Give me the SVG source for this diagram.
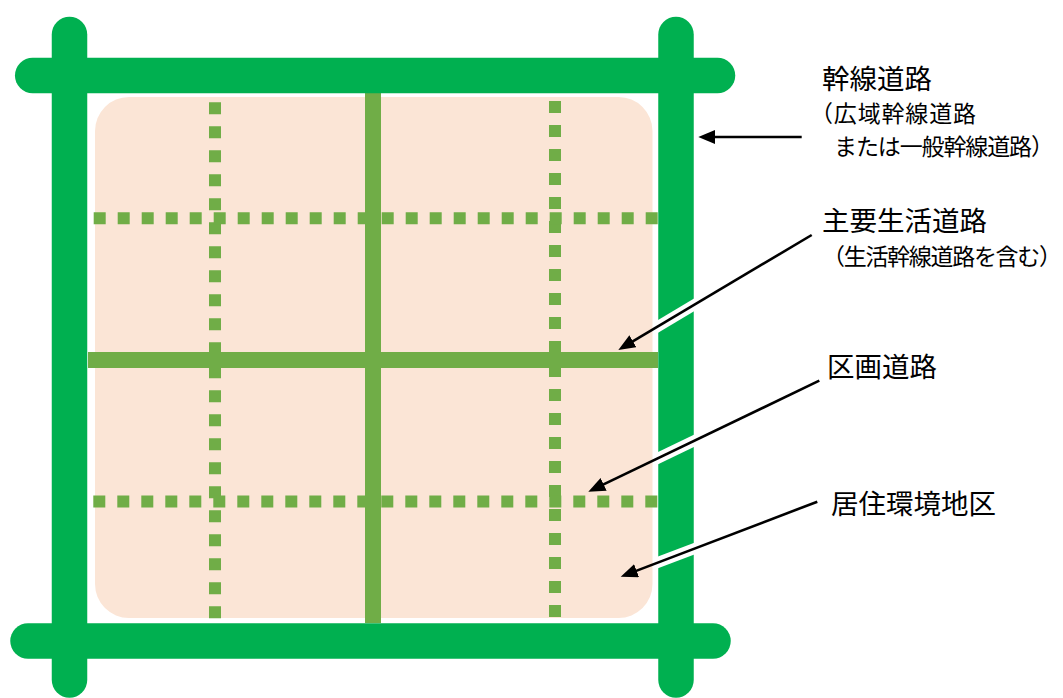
<svg xmlns="http://www.w3.org/2000/svg" width="1063" height="698" viewBox="0 0 1063 698">
  <style>
    .road { stroke: #00B050; stroke-width: 35.5; stroke-linecap: round; fill: none; }
    .main { stroke: #70AD47; stroke-width: 16; fill: none; }
    .dot { stroke: #70AD47; stroke-width: 12; stroke-dasharray: 12 12; fill: none; }
    .halo { stroke: #FFFFFF; stroke-width: 11; fill: none; }
    .arrow { stroke: #000000; stroke-width: 2.6; fill: none; marker-end: url(#ah); }
    .big { font-family: "Noto Sans CJK JP", "Noto Sans", sans-serif; font-size: 27.5px; fill: #000000; }
    .small { font-family: "Noto Sans CJK JP", "Noto Sans", sans-serif; font-size: 23px; fill: #000000; }
  </style>
  <defs>
    <marker id="ah" markerUnits="userSpaceOnUse" markerWidth="20" markerHeight="16" refX="11" refY="7" orient="auto">
      <path d="M0,0 L17,7 L0,14 z" fill="#000000"/>
    </marker>
    <clipPath id="roadclip">
      <rect x="656" y="0" width="41" height="698"/>
    </clipPath>
  </defs>

  <rect width="1063" height="698" fill="#FFFFFF"/>

  <g id="district">
    <rect x="95" y="97" width="557.5" height="521" rx="34" ry="34" fill="#FBE5D6"/>
  </g>

  <g id="local-roads">
    <line class="dot" x1="215" y1="102.3" x2="215" y2="618.3"/>
    <line class="dot" x1="555" y1="101" x2="555" y2="617"/>
    <line class="dot" x1="93.7" y1="218.2" x2="657.7" y2="218.2"/>
    <line class="dot" x1="93.3" y1="501.5" x2="657.3" y2="501.5"/>
  </g>

  <g id="main-roads">
    <line class="main" x1="88" y1="360" x2="658" y2="360"/>
    <line class="main" x1="373" y1="93" x2="373" y2="623"/>
  </g>

  <g id="arterial-roads">
    <line class="road" x1="32.7" y1="75.5" x2="717.5" y2="75.5"/>
    <line class="road" x1="28" y1="641" x2="713" y2="641"/>
    <line class="road" x1="69.5" y1="34.5" x2="69.5" y2="680"/>
    <line class="road" x1="676" y1="34.5" x2="676" y2="680"/>
  </g>

  <g id="connectors">
    <g clip-path="url(#roadclip)">
      <line class="halo" x1="811.7" y1="235" x2="618.3" y2="350"/>
      <line class="halo" x1="819.3" y1="380.7" x2="588.3" y2="491.7"/>
      <line class="halo" x1="817.3" y1="501.7" x2="620.7" y2="576.7"/>
    </g>
    <line class="arrow" x1="801.7" y1="137" x2="704.3" y2="137"/>
    <line class="arrow" x1="811.7" y1="235" x2="623.5" y2="346.9"/>
    <line class="arrow" x1="819.3" y1="380.7" x2="593.7" y2="489.1"/>
    <line class="arrow" x1="817.3" y1="501.7" x2="626.3" y2="574.6"/>
  </g>

  <g id="label-arterial">
    <text class="big" x="822" y="89">幹線道路</text>
    <text class="small" x="810" y="122" textLength="166" lengthAdjust="spacing">（広域幹線道路</text>
    <text class="small" x="834" y="155" textLength="220" lengthAdjust="spacing">または一般幹線道路）</text>
  </g>

  <g id="label-main">
    <text class="big" x="822" y="231">主要生活道路</text>
    <text class="small" x="822" y="265" textLength="240" lengthAdjust="spacing">（生活幹線道路を含む）</text>
  </g>

  <g id="label-local">
    <text class="big" x="827" y="376.5">区画道路</text>
  </g>

  <g id="label-district">
    <text class="big" x="831" y="514">居住環境地区</text>
  </g>
</svg>
